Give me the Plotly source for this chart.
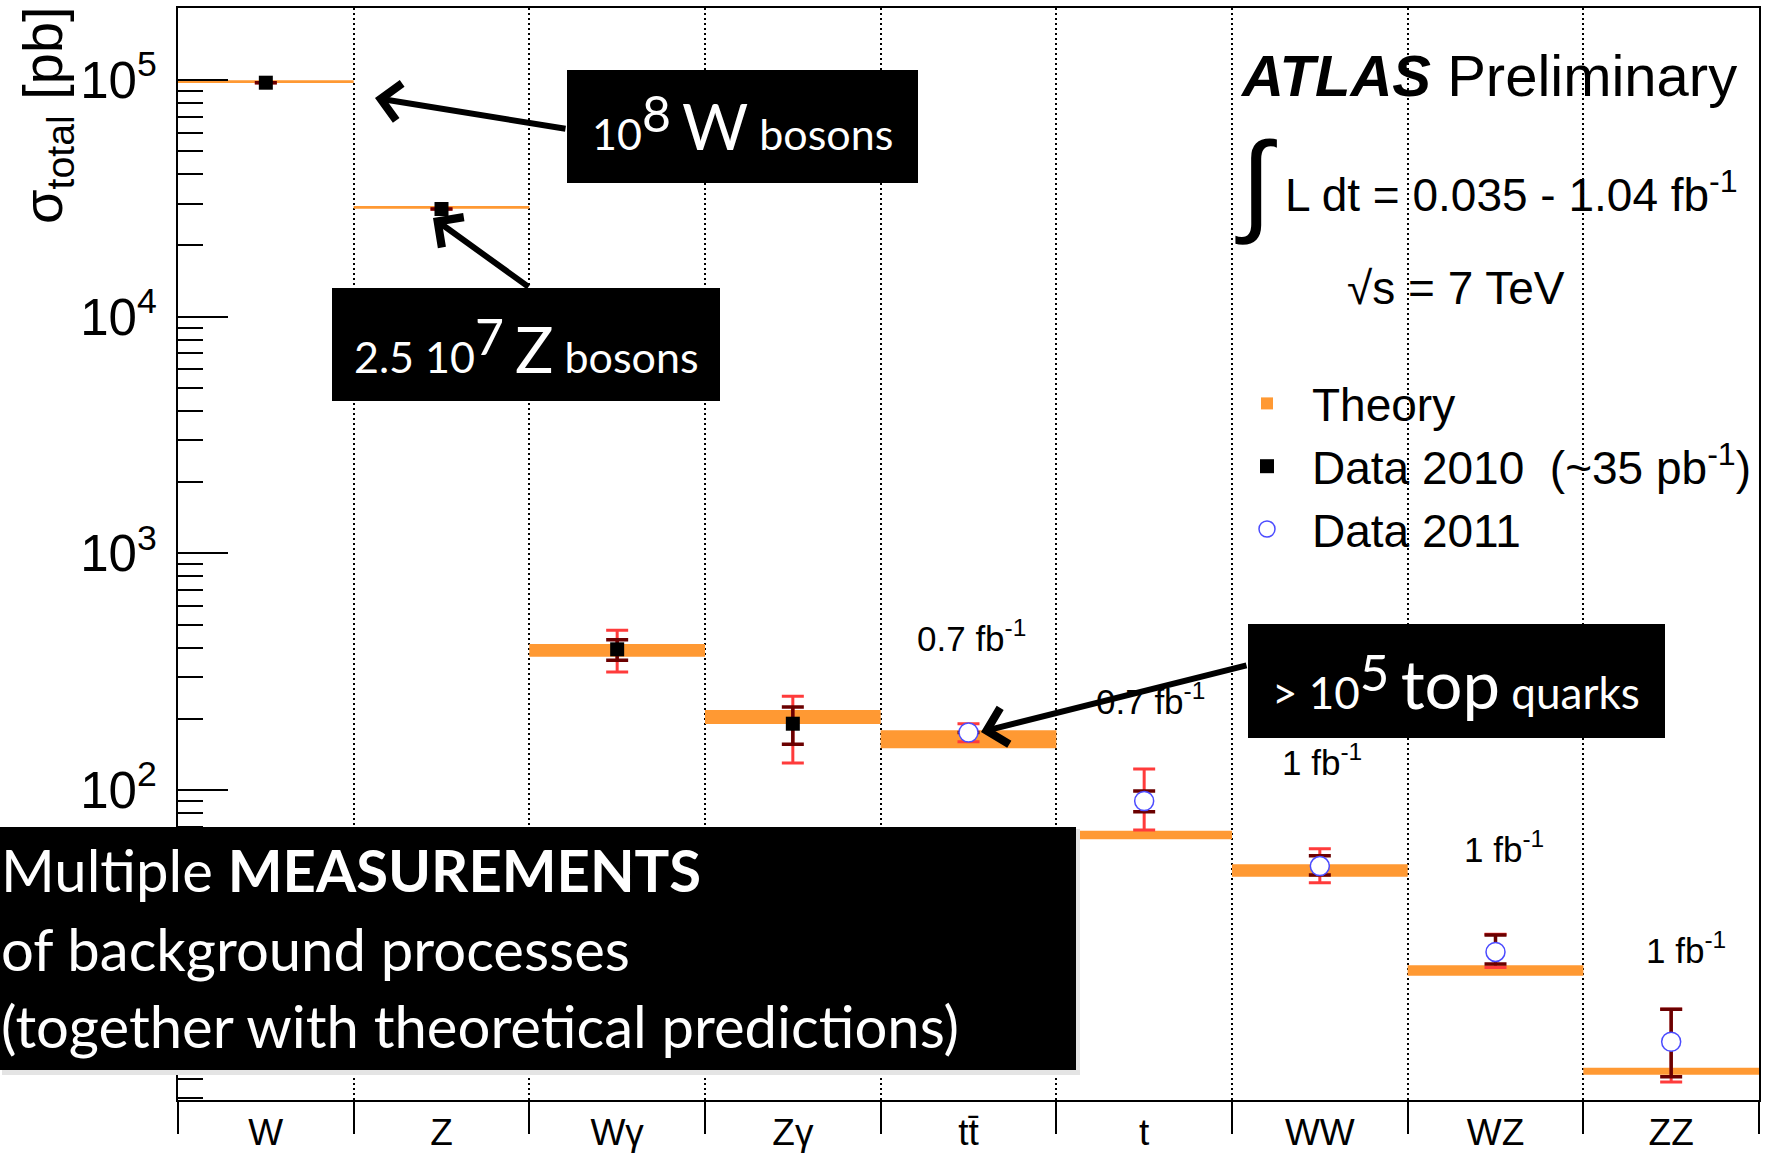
import plotly.graph_objects as go

# ---------------- data ----------------
categories = ["W", "Z", "Wγ", "Zγ", "tt\u0304", "t", "WW", "WZ", "ZZ"]
theory_low = [97100, 28600, 366, 190, 150, 61.9, 43.0, 16.4, 6.27]
theory_high = [99700, 29350, 414, 218, 179, 67.3, 48.6, 18.2, 6.71]

data2010_categories = ["W", "Z", "Wγ", "Zγ"]
data2010_values = [97400, 28500, 393, 190.6]
data2010_stat_up = [None, None, 38, 33.4]
data2010_stat_down = [None, None, 40, 34.6]
data2010_total_up = [None, None, 80, 58.4]
data2010_total_down = [None, None, 78, 60.6]

data2011_categories = ["tt\u0304", "t", "WW", "WZ", "ZZ"]
data2011_values = [175, 89.9, 47.7, 20.7, 8.64]
data2011_stat_up = [None, 9.1, 5.1, 3.7, 3.2]
data2011_stat_down = [None, 8.9, 4.0, 2.3, 2.5]
data2011_total_up = [15.6, 32.8, 8.8, 3.9, 3.2]
data2011_total_down = [15.0, 22.1, 7.1, 2.9, 2.8]

lumi_text = ["0.7 fb<sup>-1</sup>", "0.7 fb<sup>-1</sup>", "1 fb<sup>-1</sup>",
             "1 fb<sup>-1</sup>", "1 fb<sup>-1</sup>"]

ytick_values = [1e1, 1e2, 1e3, 1e4, 1e5]
ytick_text = ["10<sup>1</sup>", "10<sup>2</sup>", "10<sup>3</sup>",
              "10<sup>4</sup>", "10<sup>5</sup>"]

# ---------------- geometry ----------------
W, H = 1772, 1159
ML, MR, MT, MB = 178, 13, 8, 59
PW = W - ML - MR
PH = H - MT - MB


def fx(px):
    return (px - ML) / PW


def fy(py):
    return (H - MB - py) / PH


xpos = {c: i + 0.5 for i, c in enumerate(categories)}

ORANGE = "#ff9933"
RED = "#ff3b3b"
DARKRED = "#6b0000"
BLUE = "#4b4bff"
ROOTFONT = "Liberation Sans"
SLIDEFONT = "Lato"

fig = go.Figure()

# theory bands
fig.add_trace(go.Bar(
    x=[xpos[c] for c in categories],
    y=[h - l for h, l in zip(theory_high, theory_low)],
    base=theory_low,
    width=1.0,
    marker=dict(color=ORANGE, line=dict(width=0)),
    name="Theory",
    xaxis="x", yaxis="y",
))


def err_trace(cats, vals, up, dn, color, thick):
    return go.Scatter(
        x=[xpos[c] for c in cats], y=vals, mode="markers",
        marker=dict(color="rgba(0,0,0,0)", size=2),
        error_y=dict(type="data", symmetric=False, array=up, arrayminus=dn,
                     color=color, thickness=thick, width=11),
        showlegend=False, hoverinfo="skip", xaxis="x2", yaxis="y",
    )


fig.add_trace(err_trace(data2010_categories, data2010_values, data2010_total_up,
                        data2010_total_down, RED, 3))
fig.add_trace(err_trace(data2010_categories, data2010_values, data2010_stat_up,
                        data2010_stat_down, DARKRED, 3.5))
fig.add_trace(err_trace(data2011_categories, data2011_values, data2011_total_up,
                        data2011_total_down, RED, 3))
fig.add_trace(err_trace(data2011_categories, data2011_values, data2011_stat_up,
                        data2011_stat_down, DARKRED, 3.5))

fig.add_trace(go.Scatter(
    x=[xpos[c] for c in data2010_categories], y=data2010_values, mode="markers",
    marker=dict(symbol="square", size=14, color="black"),
    name="Data 2010  (~35 pb<sup>-1</sup>)", xaxis="x2", yaxis="y",
))
fig.add_trace(go.Scatter(
    x=[xpos[c] for c in data2011_categories], y=data2011_values, mode="markers",
    marker=dict(symbol="circle", size=19, color="white", line=dict(color=BLUE, width=1.5)),
    name="Data 2011", xaxis="x2", yaxis="y",
))

minor_vals = [k * 10 ** e for e in range(0, 6) for k in range(2, 10)]

fig.update_layout(
    width=W, height=H, autosize=False,
    margin=dict(l=ML, r=MR, t=MT, b=MB, pad=0, autoexpand=False),
    paper_bgcolor="white", plot_bgcolor="white",
    showlegend=True,
    legend=dict(x=fx(1222), y=fy(367), xanchor="left", yanchor="top",
                font=dict(family=ROOTFONT, size=46, color="black"),
                bgcolor="rgba(0,0,0,0)", itemwidth=80, tracegroupgap=0),
    xaxis=dict(range=[0, 9], tickmode="array", tickvals=list(range(10)),
               showticklabels=False, ticks="outside", ticklen=32, tickwidth=2,
               tickcolor="black", showline=True, linecolor="black", linewidth=2,
               mirror=True, showgrid=True, gridcolor="black", gridwidth=1.5,
               griddash="2px,3px", zeroline=False, fixedrange=True,
               automargin=False),
    xaxis2=dict(range=[0, 9], overlaying="x", anchor="y", side="bottom",
                tickmode="array", tickvals=[xpos[c] for c in categories],
                ticktext=categories, ticks="", showline=False, showgrid=False,
                zeroline=False, ticklabelstandoff=7, automargin=False,
                tickfont=dict(family=ROOTFONT, size=37, color="black")),
    yaxis=dict(type="log", range=[0.6902, 5.3042], tickmode="array",
               tickvals=ytick_values, ticktext=ytick_text,
               ticks="inside", ticklen=50, tickwidth=2, tickcolor="black",
               minor=dict(tickmode="array", tickvals=minor_vals, ticks="inside",
                          ticklen=25, tickwidth=2, tickcolor="black", showgrid=False),
               showline=True, linecolor="black", linewidth=2, mirror=True,
               showgrid=False, zeroline=False, ticklabelstandoff=9,
               automargin=False,
               tickfont=dict(family=ROOTFONT, size=51, color="black")),
)

shapes = []


def rect(x0, y0, x1, y1, color):
    shapes.append(dict(type="rect", xref="paper", yref="paper",
                       x0=fx(x0), x1=fx(x1), y0=fy(y1), y1=fy(y0),
                       fillcolor=color, line=dict(width=0), layer="above"))


rect(2, 829, 1080, 1075, "#e4e4e4")
rect(0, 827, 1076, 1070, "black")
rect(567, 70, 918, 183, "black")
rect(332, 288, 720, 401, "black")
rect(1248, 624, 1665, 738, "black")
fig.update_layout(shapes=shapes)

ann = []


def text(px, py, s, size, family=ROOTFONT, color="black", xanchor="center",
         yanchor="middle", angle=0, pad=1):
    ann.append(dict(x=fx(px), y=fy(py), xref="paper", yref="paper", text=s,
                    showarrow=False, xanchor=xanchor, yanchor=yanchor,
                    textangle=angle, borderpad=pad,
                    font=dict(family=family, size=size, color=color)))


def arrow(tail, tip):
    ann.append(dict(x=fx(tip[0]), y=fy(tip[1]), xref="paper", yref="paper",
                    ax=tail[0] - tip[0], ay=tail[1] - tip[1], text="",
                    showarrow=True, arrowhead=4, arrowsize=1.2, arrowwidth=6,
                    arrowcolor="black", standoff=0))


# axis title
text(46, 4, "σ<sub>total</sub> [pb]", 56, yanchor="top", angle=-90)

# ATLAS labels
text(1238, 75, "<b><i>ATLAS</i></b> Preliminary", 58, xanchor="left")
text(1256, 183, "∫", 112)
text(1283, 192, "L dt = 0.035 - 1.04 fb<sup>-1</sup>", 46, xanchor="left")
text(1345, 288, "√s = 7 TeV", 46, xanchor="left")

# luminosity labels
lumi_pos = [(971, 636), (1150, 699), (1322, 760), (1504, 847), (1686, 948)]
for (px, py), s in zip(lumi_pos, lumi_text):
    text(px, py, s, 35)

# slide call-outs
arrow((567, 129), (375, 98))
arrow((530, 288), (433, 218))
arrow((1248, 665), (981, 732))

box1 = ('<span style="font-size:43px">10</span><sup><span style="font-size:50px">8</span></sup> '
        '<span style="font-size:64px">W</span> <span style="font-size:43px">bosons</span>')
box2 = ('<span style="font-size:43px">2.5 10</span><sup><span style="font-size:50px">7</span></sup> '
        '<span style="font-size:64px">Z</span> <span style="font-size:43px">bosons</span>')
box3 = ('<span style="font-size:44px">&gt; 10</span><sup><span style="font-size:51px">5</span></sup> '
        '<span style="font-size:67px">top</span> <span style="font-size:44px">quarks</span>')
text(742, 124, box1, 43, family=SLIDEFONT, color="white")
text(526, 346, box2, 43, family=SLIDEFONT, color="white")
text(1456, 682, box3, 44, family=SLIDEFONT, color="white")

text(0, 869, "Multiple <b>MEASUREMENTS</b>", 58, family=SLIDEFONT, color="white",
     xanchor="left", pad=0)
text(0, 948, "of background processes", 58, family=SLIDEFONT, color="white",
     xanchor="left", pad=0)
text(0, 1025, "(together with theoretical predictions)", 58, family=SLIDEFONT,
     color="white", xanchor="left", pad=0)

fig.update_layout(annotations=ann)

fig.write_html("out.html")
